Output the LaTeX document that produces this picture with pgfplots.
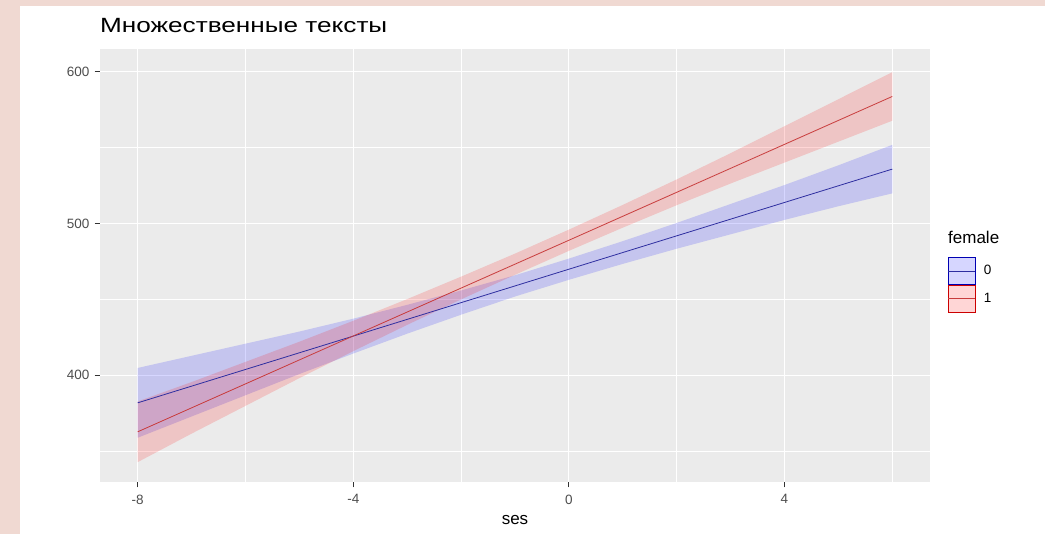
\documentclass[border=0pt]{standalone}
\usepackage{fontspec}
\setmainfont{Liberation Sans}
\newfontfamily\titlefont[FakeStretch=1.27]{Liberation Sans}
\usepackage{pgfplots}
\pgfplotsset{compat=1.18}
\definecolor{panelgrey}{HTML}{EBEBEB}
\definecolor{ticgrey}{HTML}{333333}
\definecolor{labgrey}{HTML}{4D4D4D}
\definecolor{bgpink}{HTML}{F0D9D2}
\definecolor{blueline}{HTML}{2E2EA0}
\definecolor{redline}{HTML}{C83C3C}
\definecolor{bluefill}{HTML}{0000FF}
\definecolor{redfill}{HTML}{FF0000}

\begin{document}
\begin{tikzpicture}[x=1pt,y=1pt]
\fill[bgpink] (0,0) rectangle (1045,534);
\fill[white] (20,0) rectangle (1045,528);
\begin{axis}[
  at={(100pt,52pt)}, anchor=south west,
  scale only axis, width=830pt, height=433pt,
  xmin=-8.7, xmax=6.7, ymin=329.5, ymax=615,
  axis background/.style={fill=panelgrey},
  axis line style={draw=none},
  xtick={-8,-4,0,4}, ytick={400,500,600},
  minor xtick={-6,-2,2,6}, minor ytick={350,450,550},
  grid=both,
  major grid style={white, line width=1.1pt},
  minor grid style={white, line width=0.55pt},
  tick pos=left, tick align=outside,
  major tick length=5.5pt, minor tick length=0pt,
  tick style={ticgrey, line width=1.1pt},
  /pgf/number format/assume math mode=true,
  ticklabel style={font=\fontsize{13.5}{14}\selectfont, text=labgrey},
  xticklabel style={inner sep=0pt, yshift=-7pt},
  yticklabel style={inner sep=0pt, xshift=-5pt},
  xlabel={ses},
  xlabel style={font=\fontsize{17}{18}\selectfont, at={(axis description cs:0.5,0)}, anchor=base, yshift=-43pt},
  legend style={at={(1.0217,0.5196)}, anchor=north west, draw=none, fill=none,
    inner sep=0pt, outer sep=0pt, row sep=0pt, column sep=8pt,
    nodes={inner sep=0pt, anchor=west, font=\fontsize{13.5}{14}\selectfont}},
  legend cell align=left,
]
% female = 0 : 95% band (upper edge, then lower edge back)
\addplot[fill=bluefill, fill opacity=0.16, draw=none, forget plot] coordinates {
 (-8,404.7) (-7,412.7) (-6,420.7) (-5,428.7) (-4,437.2) (-3,446.3) (-2,455.8) (-1,465.8)
 (0,476.8) (1,488.3) (2,500.3) (3,512.8) (4,525.3) (5,538.3) (6,551.8)
 (6,519.8) (5,511.3) (4,502.3) (3,492.8) (2,483.3) (1,473.3) (0,462.8) (-1,451.8)
 (-2,439.8) (-3,427.3) (-4,414.2) (-5,400.7) (-6,386.7) (-7,372.7) (-8,358.7)} -- cycle;
% female = 1 : 95% band
\addplot[fill=redfill, fill opacity=0.16, draw=none, forget plot] coordinates {
 (-8,382.6) (-7,395.4) (-6,408.7) (-5,422.0) (-4,435.8) (-3,450.1) (-2,464.9) (-1,480.1)
 (0,495.9) (1,512.2) (2,529.0) (3,546.3) (4,564.1) (5,581.9) (6,599.7)
 (6,567.7) (5,553.9) (4,540.1) (3,526.3) (2,512.0) (1,497.2) (0,481.9) (-1,466.1)
 (-2,449.9) (-3,433.1) (-4,415.8) (-5,398.0) (-6,379.7) (-7,361.4) (-8,342.6)} -- cycle;
\addplot[blueline, line width=0.8pt, mark=none, legend image code/.code={
   \fill[bluefill, opacity=0.16] (0pt,-13.5pt) rectangle (27pt,13.5pt);
   \draw[bluefill!70!black, line width=0.6pt] (0.3pt,-13.2pt) rectangle (26.7pt,13.2pt);
   \draw[blueline, line width=0.8pt] (0pt,0pt) -- (27pt,0pt);}]
   coordinates {(-8,381.7) (-4,425.7) (0,469.8) (4,513.8) (6,535.8)};
\addlegendentry{0}
\addplot[redline, line width=0.8pt, mark=none, legend image code/.code={
   \fill[redfill, opacity=0.16] (0pt,-13.5pt) rectangle (27pt,13.5pt);
   \draw[redfill!80!black, line width=0.6pt] (0.3pt,-13.2pt) rectangle (26.7pt,13.2pt);
   \draw[redline, line width=0.8pt] (0pt,0pt) -- (27pt,0pt);}]
   coordinates {(-8,362.6) (-4,425.8) (0,488.9) (4,552.1) (6,583.7)};
\addlegendentry{1}
\end{axis}
\node[anchor=base west, inner sep=0pt, font=\fontsize{17}{18}\selectfont] at (948,290) {female};
\node[anchor=base west, inner sep=0pt, font=\titlefont\fontsize{20.6}{22}\selectfont] at (100,501) {Множественные тексты};
\end{tikzpicture}
\end{document}
